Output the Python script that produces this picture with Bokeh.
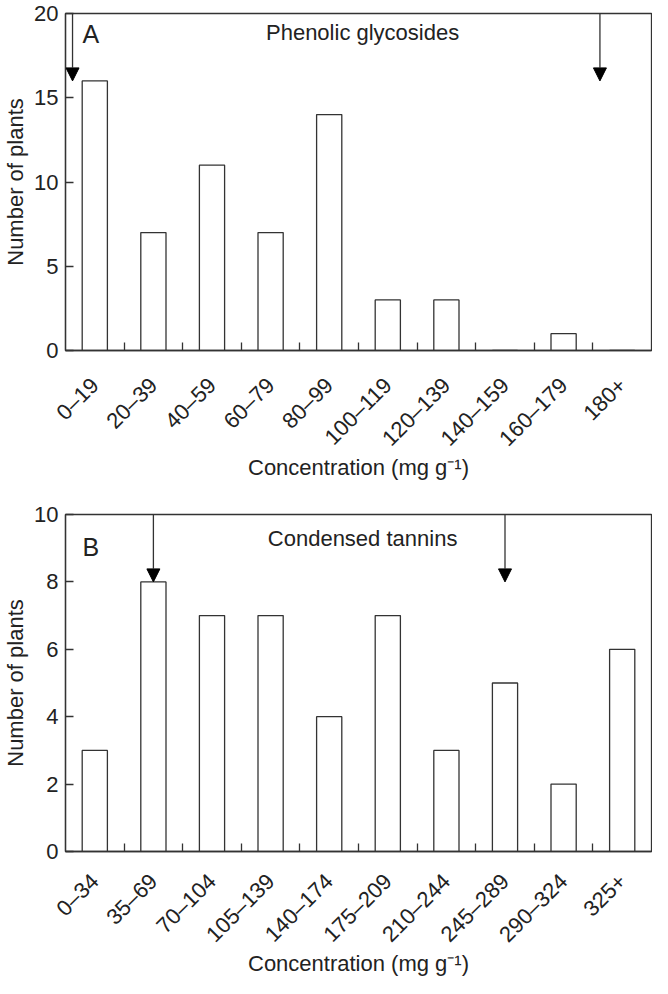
import math
from bokeh.plotting import figure
from bokeh.models import Range1d, FixedTicker, Arrow, NormalHead, ColumnDataSource, Label
from bokeh.layouts import column
from bokeh.embed import file_html
from bokeh.resources import INLINE

# ---- data ----
categories_a = ["0–19", "20–39", "40–59", "60–79", "80–99",
                "100–119", "120–139", "140–159", "160–179", "180+"]
counts_a = [16, 7, 11, 7, 14, 3, 3, 0, 1, 0]
arrow_pos_a = [0.12, 9.12]      # in bin units
arrow_tip_a = [16, 16]

categories_b = ["0–34", "35–69", "70–104", "105–139", "140–174",
                "175–209", "210–244", "245–289", "290–324", "325+"]
counts_b = [3, 8, 7, 7, 4, 7, 3, 5, 2, 6]
arrow_pos_b = [1.5, 7.5]
arrow_tip_b = [8, 8]

FONT = "Liberation Sans"
INK = "#333333"
TXT = "#222222"


def panel(cats, counts, ymax, ystep, apos, atip, letter, title,
          height, top, bottom, letter_y, title_y, tick_standoff, label_standoff):
    n = len(cats)
    centers = [i + 0.5 for i in range(n)]
    bounds = [float(i) for i in range(1, n)]
    p = figure(width=652, height=height, x_range=Range1d(0, n),
               y_range=Range1d(0, ymax), output_backend="svg",
               toolbar_location=None, min_border_left=62, min_border_right=1,
               min_border_top=top, min_border_bottom=bottom)
    p.xgrid.visible = False
    p.ygrid.visible = False
    p.outline_line_color = INK
    p.outline_line_width = 1.3
    p.background_fill_color = "white"
    p.border_fill_color = "white"

    src = ColumnDataSource(dict(x=centers, top=counts))
    p.vbar(x="x", top="top", width=0.43, source=src, fill_color="white",
           line_color=INK, line_width=1.3)

    # x axis
    xa = p.xaxis[0]
    xa.ticker = FixedTicker(ticks=centers, minor_ticks=bounds)
    xa.major_label_overrides = {c: lab for c, lab in zip(centers, cats)}
    xa.major_tick_line_color = None
    xa.minor_tick_in = 8
    xa.minor_tick_out = 0
    xa.minor_tick_line_color = INK
    xa.minor_tick_line_width = 1.3
    xa.axis_line_color = INK
    xa.axis_line_width = 1.3
    xa.major_label_orientation = math.pi / 4
    xa.major_label_standoff = tick_standoff
    xa.major_label_text_font = FONT
    xa.major_label_text_font_size = "22px"
    xa.major_label_text_color = TXT
    xa.axis_label = "Concentration (mg g⁻¹)"
    xa.axis_label_text_font = FONT
    xa.axis_label_text_font_size = "22px"
    xa.axis_label_text_font_style = "normal"
    xa.axis_label_text_color = TXT
    xa.axis_label_standoff = label_standoff

    # y axis
    ya = p.yaxis[0]
    ya.ticker = FixedTicker(ticks=list(range(0, ymax + 1, ystep)))
    ya.major_tick_in = 8
    ya.major_tick_out = 0
    ya.major_tick_line_color = INK
    ya.major_tick_line_width = 1.3
    ya.minor_tick_line_color = None
    ya.axis_line_color = INK
    ya.axis_line_width = 1.3
    ya.major_label_standoff = 7
    ya.major_label_text_font = FONT
    ya.major_label_text_font_size = "22px"
    ya.major_label_text_color = TXT
    ya.axis_label = "Number of plants"
    ya.axis_label_text_font = FONT
    ya.axis_label_text_font_size = "22px"
    ya.axis_label_text_font_style = "normal"
    ya.axis_label_text_color = TXT
    ya.axis_label_standoff = 3

    # arrows
    asrc = ColumnDataSource(dict(x0=apos, y0=[ymax] * len(apos),
                                 x1=apos, y1=atip))
    p.add_layout(Arrow(end=NormalHead(size=13, fill_color="black",
                                      line_color="black", line_width=1),
                       x_start="x0", y_start="y0", x_end="x1", y_end="y1",
                       source=asrc, line_color=INK, line_width=1.3))

    p.add_layout(Label(x=0.29, y=letter_y, text=letter, text_font=FONT,
                       text_font_size="25px", text_color=TXT,
                       text_baseline="alphabetic", text_align="left"))
    p.add_layout(Label(x=5.07, y=title_y, text=title, text_font=FONT,
                       text_font_size="22px", text_color=TXT,
                       text_baseline="alphabetic", text_align="center"))
    return p


pa = panel(categories_a, counts_a, 20, 5, arrow_pos_a, arrow_tip_a, "A",
           "Phenolic glycosides", 482, 13, 130, 18.76, 18.88, 25, -8)
pb = panel(categories_b, counts_b, 10, 2, arrow_pos_b, arrow_tip_b, "B",
           "Condensed tannins", 496, 32, 116, 9.05, 9.3, 20, -8)

layout = column(pa, pb, spacing=0)
open("out.html", "w").write(file_html(layout, INLINE))
